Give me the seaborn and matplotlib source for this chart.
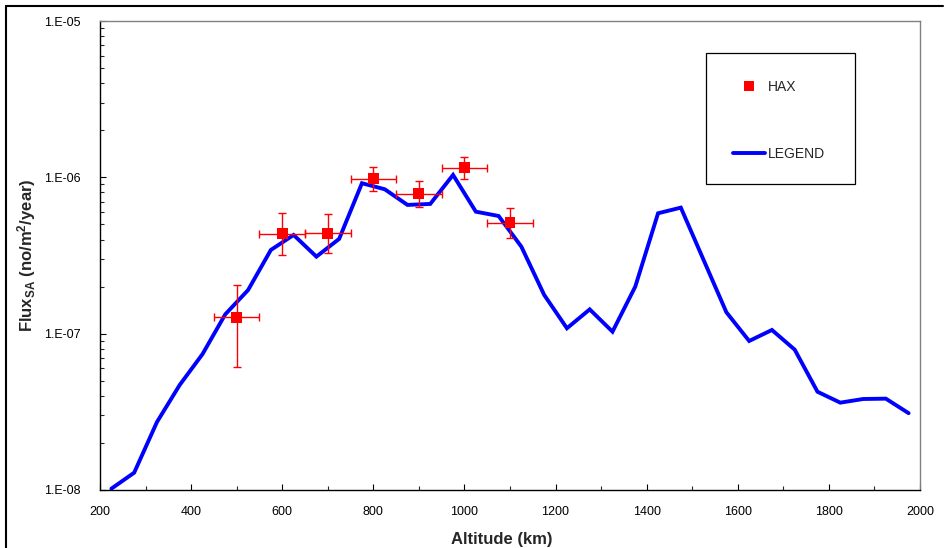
import numpy as np
import pandas as pd
import matplotlib
matplotlib.use("Agg")
import matplotlib.pyplot as plt
import seaborn as sns
from matplotlib.ticker import LogLocator, MultipleLocator, FuncFormatter, NullFormatter
from matplotlib.lines import Line2D
from matplotlib.patches import Rectangle

# ---------------- data ----------------
altitude_model = [225, 275, 325, 375, 425, 475, 525, 575, 625, 675, 725, 775,
                  825, 875, 925, 975, 1025, 1075, 1125, 1175, 1225, 1275, 1325,
                  1375, 1425, 1475, 1525, 1575, 1625, 1675, 1725, 1775, 1825,
                  1875, 1925, 1975]
flux_model = [1.02e-8, 1.29e-8, 2.72e-8, 4.7e-8, 7.4e-8, 1.33e-7, 1.90e-7,
              3.43e-7, 4.28e-7, 3.11e-7, 4.04e-7, 9.17e-7, 8.39e-7, 6.66e-7,
              6.76e-7, 1.036e-6, 6.03e-7, 5.66e-7, 3.60e-7, 1.77e-7, 1.083e-7,
              1.43e-7, 1.03e-7, 2.0e-7, 5.89e-7, 6.4e-7, 2.96e-7, 1.37e-7,
              8.98e-8, 1.056e-7, 7.9e-8, 4.25e-8, 3.62e-8, 3.82e-8, 3.84e-8,
              3.10e-8]

hax_altitude = [500, 600, 700, 800, 900, 1000, 1100]
hax_flux = [1.27e-7, 4.36e-7, 4.38e-7, 9.77e-7, 7.83e-7, 1.153e-6, 5.13e-7]
hax_flux_low = [6.1e-8, 3.19e-7, 3.27e-7, 8.18e-7, 6.44e-7, 9.72e-7, 4.11e-7]
hax_flux_high = [2.05e-7, 5.94e-7, 5.83e-7, 1.17e-6, 9.52e-7, 1.345e-6, 6.34e-7]
hax_alt_err = [50, 50, 50, 50, 50, 50, 50]

legend_labels = ["HAX", "LEGEND"]
x_label = "Altitude (km)"
y_label = r"Flux$_{\mathrm{SA}}$ (no/m$^{\mathrm{2}}$/year)"

# ---------------- style ----------------
sns.set_style("ticks")
plt.rcParams['font.family'] = ['Liberation Sans', 'DejaVu Sans']
plt.rcParams['mathtext.fontset'] = 'custom'
plt.rcParams['mathtext.rm'] = 'Liberation Sans:bold'
plt.rcParams['mathtext.bf'] = 'Liberation Sans:bold'
plt.rcParams['mathtext.it'] = 'Liberation Sans:bold'

W, H = 948, 548
fig = plt.figure(figsize=(W / 100, H / 100), dpi=100)
ax = fig.add_axes([100 / W, 1 - 490 / H, 820 / W, 469 / H])

df_model = pd.DataFrame({"alt": altitude_model, "flux": flux_model})
df_hax = pd.DataFrame({"alt": hax_altitude, "flux": hax_flux,
                       "lo": hax_flux_low, "hi": hax_flux_high,
                       "xerr": hax_alt_err})

sns.lineplot(data=df_model, x="alt", y="flux", ax=ax, color="#0000FF",
             linewidth=2.8, zorder=2, solid_joinstyle='miter')

yerr = [df_hax["flux"] - df_hax["lo"], df_hax["hi"] - df_hax["flux"]]
ax.errorbar(df_hax["alt"], df_hax["flux"], yerr=yerr, xerr=df_hax["xerr"],
            fmt='none', ecolor='#FF0000', elinewidth=1.0, capsize=3,
            capthick=1.0, zorder=3)
sns.scatterplot(data=df_hax, x="alt", y="flux", ax=ax, marker='s', s=62,
                color="#FF0000", edgecolor='none', linewidth=0, zorder=4)

ax.set_yscale('log')
ax.set_xlim(200, 2000)
ax.set_ylim(1e-8, 1e-5)

ax.xaxis.set_major_locator(MultipleLocator(200))
ax.xaxis.set_minor_locator(MultipleLocator(100))
ax.yaxis.set_major_locator(LogLocator(base=10, numticks=10))
ax.yaxis.set_minor_locator(LogLocator(base=10, subs=np.arange(2, 10), numticks=20))
ax.yaxis.set_minor_formatter(NullFormatter())
ax.yaxis.set_major_formatter(FuncFormatter(
    lambda v, p: "1.E" + "{:+03d}".format(int(round(np.log10(v))))))

ax.tick_params(axis='both', which='major', direction='in', length=4,
               width=0.8, labelsize=9, colors='black')
ax.tick_params(axis='both', which='minor', direction='in', length=3,
               width=0.8)
ax.tick_params(axis='x', which='major', pad=11.5)
ax.tick_params(axis='y', which='major', pad=14)
ax.tick_params(top=False, right=False, which='both')

for s in ['left', 'bottom']:
    ax.spines[s].set_color('black')
    ax.spines[s].set_linewidth(1.0)
for s in ['top', 'right']:
    ax.spines[s].set_color('#808080')
    ax.spines[s].set_linewidth(1.0)

ax.set_xlabel(x_label, fontsize=12, fontweight='bold', labelpad=10)
ax.set_ylabel(y_label, fontsize=12, fontweight='bold', labelpad=4)
ax.xaxis.label.set_position((0.49, 0))

# legend box
ax.add_patch(Rectangle(((706 - 100) / 820, (490 - 184) / 469),
                       (855 - 706) / 820, (184 - 53) / 469,
                       transform=ax.transAxes, fill=True, facecolor='white',
                       edgecolor='black', linewidth=0.9, zorder=5))
handles = [Line2D([], [], marker='s', color='#FF0000', linestyle='none',
                  markersize=7, markeredgewidth=0),
           Line2D([], [], color='#0000FF', linewidth=2.8)]
leg = ax.legend(handles, legend_labels, loc='upper left',
                bbox_to_anchor=(733 / W, 1 - 80 / H),
                bbox_transform=fig.transFigure, frameon=False,
                borderpad=0, borderaxespad=0, handlelength=2.3,
                handletextpad=0.2, labelspacing=3.8, fontsize=10)
leg.set_zorder(6)

# outer figure frame (top and left)
fig.add_artist(Line2D([6 / W, 943 / W], [1 - 6 / H, 1 - 6 / H],
                      transform=fig.transFigure, color='black', linewidth=1.5))
fig.add_artist(Line2D([6 / W, 6 / W], [1 - 6 / H, 0],
                      transform=fig.transFigure, color='black', linewidth=1.5))

fig.savefig("out.png", dpi=100)
